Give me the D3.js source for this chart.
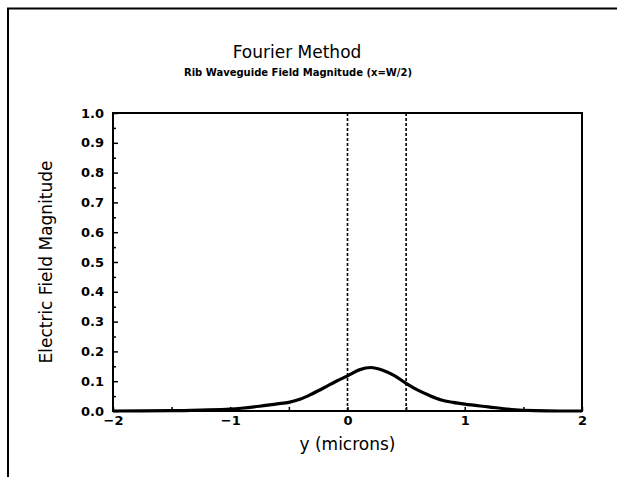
<!DOCTYPE html>
<html><head><meta charset="utf-8">
<script src="https://cdn.jsdelivr.net/npm/d3@7"></script>
<style>body{margin:0;background:#fff}svg{display:block}text{font-family:"DejaVu Sans",sans-serif;fill:#000}</style>
</head><body>
<script>
const yPos = [-2,-1.75,-1.5,-1.25,-1,-0.75,-0.6,-0.5,-0.4,-0.3,-0.2,-0.1,0,0.1,0.2,0.3,0.4,0.5,0.6,0.7,0.8,0.9,1.0,1.2,1.4,1.6,1.8,2];
const fieldMag = [0.0,0.0005,0.001,0.003,0.006,0.016,0.024,0.029,0.040,0.058,0.078,0.099,0.118,0.138,0.146,0.137,0.119,0.093,0.070,0.052,0.037,0.029,0.023,0.014,0.005,0.001,0.0,0.0];
const guideEdges = [0, 0.5];
const xTicks = [-2,-1,0,1,2];
const yTicks = [0,0.1,0.2,0.3,0.4,0.5,0.6,0.7,0.8,0.9,1.0];

const W=617,H=477;
const svg=d3.select("body").append("svg").attr("width",W).attr("height",H);
// page frame
svg.append("path").attr("d","M8,477 L8,8.5 L617,8.5").attr("fill","none").attr("stroke","#000").attr("stroke-width",2);

const L=113,R=582,T=113,B=411;
const x=d3.scaleLinear().domain([-2,2]).range([L,R]);
const y=d3.scaleLinear().domain([0,1]).range([B,T]);

// dashed guide lines
svg.selectAll(".g").data(guideEdges).enter().append("line")
 .attr("x1",d=>x(d)).attr("x2",d=>x(d)).attr("y1",T).attr("y2",B)
 .attr("stroke","#000").attr("stroke-width",1.6).attr("stroke-dasharray","3,2");

// axes with inward ticks
const gx=svg.append("g").attr("transform",`translate(0,${B})`)
 .call(d3.axisBottom(x).tickValues(d3.range(-2,2.01,0.5)).tickSize(-4).tickFormat(""));
const gxl=svg.append("g").attr("transform",`translate(0,${B})`)
 .call(d3.axisBottom(x).tickValues(xTicks).tickSize(0).tickPadding(5).tickFormat(d=>d<0?"\u2212"+(-d):d));
const gy=svg.append("g").attr("transform",`translate(${L},0)`)
 .call(d3.axisLeft(y).tickValues(yTicks).tickSize(-5).tickPadding(9).tickFormat(d3.format(".1f")));
const gym=svg.append("g").attr("transform",`translate(${L},0)`)
 .call(d3.axisLeft(y).tickValues(d3.range(0.05,1,0.1)).tickSize(-3).tickFormat(""));
[gx,gxl,gy,gym].forEach(g=>{g.select(".domain").remove();g.selectAll("line").attr("stroke","#000").attr("stroke-width",1.5);
 g.selectAll("text").style("font-size","13px").style("font-weight","bold").style("font-family","\"DejaVu Sans\",sans-serif");});
gxl.selectAll("text").attr("dy","0.71em");

// plot box
svg.append("rect").attr("x",L).attr("y",T).attr("width",R-L).attr("height",B-T)
 .attr("fill","none").attr("stroke","#000").attr("stroke-width",2);

// curve
const pts=yPos.map((v,i)=>[v,fieldMag[i]]);
svg.append("path").datum(pts).attr("fill","none").attr("stroke","#000").attr("stroke-width",3.2)
 .attr("d",d3.line().x(d=>x(d[0])).y(d=>y(d[1])).curve(d3.curveMonotoneX));

// titles
svg.append("text").attr("x",297).attr("y",58).attr("text-anchor","middle").style("font-size","17px").text("Fourier Method");
svg.append("text").attr("x",298).attr("y",76).attr("text-anchor","middle").style("font-size","10px").style("font-weight","bold").text("Rib Waveguide Field Magnitude (x=W/2)");
svg.append("text").attr("x",x(0)).attr("y",450).attr("text-anchor","middle").style("font-size","17px").text("y (microns)");
svg.append("text").attr("transform","translate(52,262) rotate(-90)").attr("text-anchor","middle").style("font-size","17px").text("Electric Field Magnitude");
</script>
</body></html>
